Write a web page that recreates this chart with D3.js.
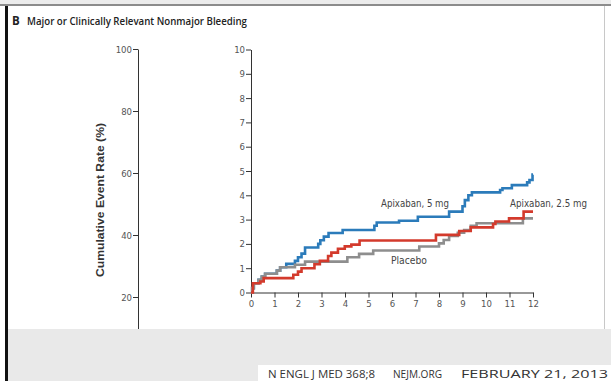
<!DOCTYPE html>
<html><head><meta charset="utf-8">
<script src="https://cdn.jsdelivr.net/npm/d3@7"></script>
<style>
html,body{margin:0;padding:0;background:#fff;}
svg{display:block;}
.tick text{font-family:"Liberation Sans Narrow","DejaVu Sans Condensed","Roboto",sans-serif;font-size:9.5px;fill:#555;}
</style></head>
<body>
<svg id="c" width="611" height="381"></svg>
<script>
// ---- data ----
const xTicks = [0,1,2,3,4,5,6,7,8,9,10,11,12];
const yTicksZoom = [0,1,2,3,4,5,6,7,8,9,10];
const yTicksFull = [20,40,60,80,100];
const seriesNames = ["Apixaban, 5 mg","Placebo","Apixaban, 2.5 mg"];
const footerParts = ["N ENGL J MED 368;8","NEJM.ORG","FEBRUARY 21, 2013"];
const apix5Months = [0,0.05,0.12,0.32,0.46,0.6,1.1,1.24,1.5,1.87,2.0,2.15,2.3,2.86,2.95,3.1,3.3,3.9,5.25,5.35,6.3,7.1,8.43,9.0,9.1,9.25,9.4,10.6,10.7,11.1,11.75,11.85,11.98,12];
const apix5Values = [0,0.18,0.38,0.52,0.66,0.77,0.9,1.04,1.18,1.3,1.45,1.6,1.85,2.0,2.15,2.3,2.45,2.57,2.75,2.88,2.95,3.12,3.33,3.55,3.8,4.0,4.12,4.22,4.29,4.42,4.53,4.63,4.85,4.85];
const placeboMonths = [0,0.05,0.12,0.32,0.46,0.6,1.1,1.24,1.87,2.3,4.1,4.6,5.2,7.16,8.0,8.2,8.43,8.8,9.07,9.35,9.6,11.57,12];
const placeboValues = [0,0.18,0.38,0.52,0.66,0.77,0.9,1.04,1.14,1.27,1.45,1.59,1.73,1.89,2.02,2.16,2.33,2.46,2.57,2.74,2.85,3.05,3.05];
const apix25Months = [0,0.08,0.4,0.54,1.8,2.0,2.15,2.7,2.93,3.28,3.42,3.7,3.99,4.27,4.62,7.87,8.86,9.35,10.3,10.4,10.98,11.6,12];
const apix25Values = [0,0.38,0.45,0.59,0.73,0.86,1.0,1.16,1.3,1.5,1.64,1.8,1.9,1.97,2.14,2.37,2.53,2.68,2.82,2.92,3.05,3.33,3.33];

const svg = d3.select("#c");

// frame
svg.append("rect").attr("x",0).attr("y",0).attr("width",611).attr("height",4).attr("fill","#ececec");
svg.append("rect").attr("x",0).attr("y",4).attr("width",611).attr("height",2).attr("fill","#8c8c8c");
svg.append("rect").attr("x",5).attr("y",6).attr("width",3).attr("height",375).attr("fill","#111");
svg.append("line").attr("x1",604.5).attr("x2",604.5).attr("y1",6).attr("y2",329).attr("stroke","#c8c8c8").attr("stroke-width",1);

// title
svg.append("text").attr("x",12).attr("y",25).text("B")
  .attr("font-family","Open Sans, sans-serif").attr("font-weight","bold").attr("font-size",11.5).attr("fill","#222");
svg.append("text").attr("x",27).attr("y",25).text("Major or Clinically Relevant Nonmajor Bleeding")
  .attr("font-family","Open Sans, sans-serif").attr("font-weight",600).attr("font-size",10.5).attr("fill","#222")
  .attr("textLength",220).attr("lengthAdjust","spacingAndGlyphs");

// y title
svg.append("text").attr("transform","translate(104,200) rotate(-90)").attr("text-anchor","middle")
  .text("Cumulative Event Rate (%)")
  .attr("font-family","Liberation Sans, sans-serif").attr("font-weight","bold").attr("font-size",10).attr("fill","#333")
  .attr("textLength",154).attr("lengthAdjust","spacingAndGlyphs");

// full-scale axis
const yFull = d3.scaleLinear().domain([0,100]).range([359,49]);
const gFull = svg.append("g").attr("transform","translate(138,0)")
  .call(d3.axisLeft(yFull).tickValues(yTicksFull).tickSize(5).tickPadding(1).tickSizeOuter(0));
gFull.select(".domain").attr("stroke","#333");
gFull.selectAll(".tick line").attr("stroke","#333");

// zoomed axes
const x = d3.scaleLinear().domain([0,12]).range([251,533]);
const y = d3.scaleLinear().domain([0,10]).range([292.5,49.5]);
const gy = svg.append("g").attr("transform","translate(251,0)")
  .call(d3.axisLeft(y).tickValues(yTicksZoom).tickSize(5).tickPadding(1).tickSizeOuter(0));
const gx = svg.append("g").attr("transform","translate(0,292.5)")
  .call(d3.axisBottom(x).tickValues(xTicks).tickSize(5).tickPadding(3).tickSizeOuter(0));
[gy,gx].forEach(g=>{g.select(".domain").attr("stroke","#333");g.selectAll(".tick line").attr("stroke","#333");});

// curves
const line = d3.line().x(d=>x(d[0])).y(d=>y(d[1])).curve(d3.curveStepAfter);
const series = [
  {m:apix5Months, v:apix5Values, c:"#2b7bba"},
  {m:placeboMonths, v:placeboValues, c:"#8e8e8e"},
  {m:apix25Months, v:apix25Values, c:"#d33a2c"}
];
series.forEach(s=>{
  svg.append("path").datum(d3.zip(s.m,s.v)).attr("d",line)
    .attr("fill","none").attr("stroke",s.c).attr("stroke-width",2.6).attr("stroke-linejoin","miter");
});

// labels
const lab = (t,xx,yy)=>svg.append("text").attr("x",xx).attr("y",yy).text(t)
  .attr("font-family","Liberation Sans Narrow, DejaVu Sans Condensed, sans-serif").attr("font-size",10).attr("fill","#444");
lab(seriesNames[0],381,207).attr("textLength",68).attr("lengthAdjust","spacingAndGlyphs");
lab(seriesNames[1],391,264).attr("textLength",36).attr("lengthAdjust","spacingAndGlyphs");
lab(seriesNames[2],510,207).attr("textLength",77).attr("lengthAdjust","spacingAndGlyphs");

// bottom gray band
svg.append("rect").attr("x",8).attr("y",329).attr("width",603).attr("height",52).attr("fill","#e9e9e9");
svg.append("rect").attr("x",258).attr("y",365).attr("width",353).attr("height",16).attr("fill","#fff");
const footX = [268,393,461], footW = [107,49,147];
footerParts.forEach((t,i)=>{
  svg.append("text").attr("x",footX[i]).attr("y",378).text(t)
    .attr("font-family","Open Sans, sans-serif").attr("font-size",11.5).attr("fill","#333")
    .attr("textLength",footW[i]).attr("lengthAdjust","spacingAndGlyphs");
});
</script>
</body></html>
